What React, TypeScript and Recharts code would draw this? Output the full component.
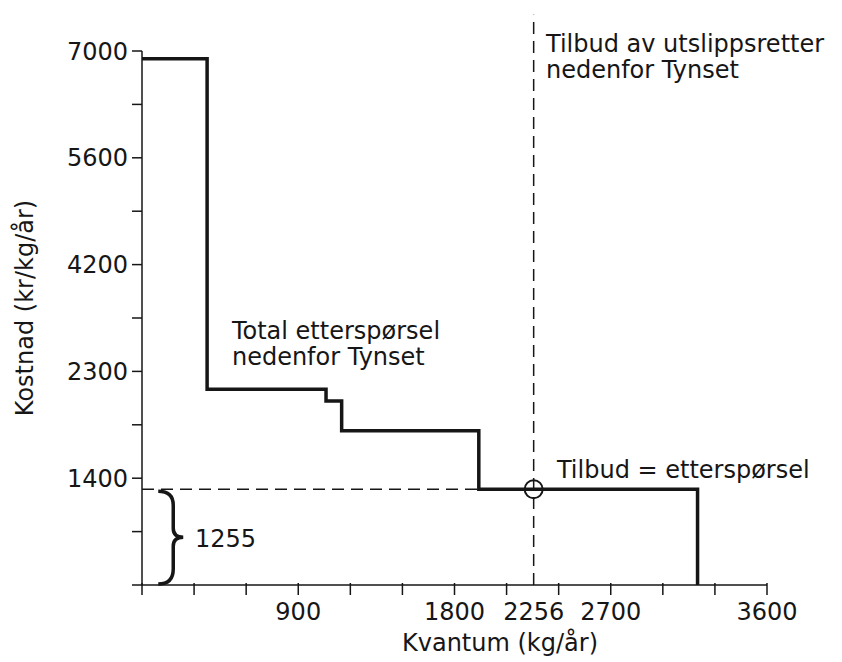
import React from "react";
import {LineChart, Line, XAxis, YAxis, ReferenceLine, ReferenceDot} from "recharts";

const FONT = '"DejaVu Sans", sans-serif';
const INK = "#161616";

// the cost axis is not linear: every labelled value gets the same spacing
const Y_TICK_VALUES = [0, 1400, 2300, 4200, 5600, 7000];
const X_TICK_VALUES = [0, 300, 600, 900, 1200, 1500, 1800, 2100, 2400, 2700, 3000, 3300, 3600];
const X_LABELS = [900, 1800, 2256, 2700, 3600];

// total demand below Tynset (step curve)
const DEMAND_QTY = [0, 375, 1060, 1150, 1940, 3200];
const DEMAND_COST = [6900, 2150, 2050, 1800, 1255, 0];

// supply of emission rights and the equilibrium price
const SUPPLY_QTY = 2256;
const EQ_COST = 1255;

function toIdx(v: number): number {
    for (let i = 0; i < Y_TICK_VALUES.length - 1; i++) {
        const a = Y_TICK_VALUES[i];
        const b = Y_TICK_VALUES[i + 1];
        if (v <= b) return i + (v - a) / (b - a);
    }
    return Y_TICK_VALUES.length - 1;
}

const demandData = DEMAND_QTY.map((q, i) => ({q, cost: DEMAND_COST[i], pos: toIdx(DEMAND_COST[i])}));
const yTicks = Y_TICK_VALUES.flatMap((_, i) => (i === 0 ? [0] : [i - 0.5, i]));

const textStyle = {fontFamily: FONT, fontSize: 24, fill: INK};

const note = (lines: string[]) => (p: any) => (
    <text x={p.cx} y={p.cy} {...textStyle}>
        {lines.map((s, i) => (
            <tspan key={i} x={p.cx} dy={i === 0 ? 0 : 26}>{s}</tspan>
        ))}
    </text>
);

const XTick = (p: any) => {
    const v = p.payload.value;
    const axisY = p.y - 18;
    return (
        <g>
            {v !== SUPPLY_QTY &&
                <line x1={p.x} x2={p.x} y1={axisY - 2} y2={axisY + 10} stroke={INK} strokeWidth={1.5}/>}
            {X_LABELS.includes(v) &&
                <text x={p.x} y={p.y} dy="0.71em" textAnchor="middle" {...textStyle}>{v}</text>}
        </g>
    );
};

const Brace = (p: any) => {
    const x = p.x1;
    const top = Math.min(p.y1, p.y2);
    const bot = Math.max(p.y1, p.y2);
    const mid = (top + bot) / 2;
    const d = `M${x - 15},${top + 2} Q${x},${top + 2} ${x},${top + 16} L${x},${mid - 9} ` +
        `Q${x},${mid} ${x + 10},${mid} Q${x},${mid} ${x},${mid + 9} L${x},${bot - 16} Q${x},${bot - 1} ${x - 15},${bot - 1}`;
    return <path d={d} fill="none" stroke={INK} strokeWidth={3.5}/>;
};

export default function App() {
    return (
        <div style={{position: "absolute", left: 0, top: 0, width: 842, height: 662, overflow: "hidden", background: "#fff"}}>
            <LineChart width={842} height={662} data={demandData}
                       margin={{top: 51, right: 75, bottom: 27, left: 82}}>
                <XAxis dataKey="q" type="number" domain={[0, 3600]} ticks={[...X_TICK_VALUES, SUPPLY_QTY].sort((a, b) => a - b)}
                       interval={0} height={50} tickSize={10} tickMargin={8} tickLine={false}
                       axisLine={{stroke: INK, strokeWidth: 1.5}} tick={<XTick/>}
                       label={{
                           content: ({viewBox}: any) => (
                               <text x={viewBox.x + 358} y={viewBox.y + 66} textAnchor="middle" {...textStyle}>
                                   Kvantum (kg/år)
                               </text>
                           )
                       }}/>
                <YAxis type="number" domain={[0, 5]} ticks={yTicks} interval={0} width={60}
                       tickSize={10} tickMargin={4}
                       axisLine={{stroke: INK, strokeWidth: 1.5}} tickLine={{stroke: INK, strokeWidth: 1.5}}
                       tick={{...textStyle}}
                       tickFormatter={(v: number) => (Number.isInteger(v) && v > 0 ? String(Y_TICK_VALUES[v]) : "")}
                       label={{
                           content: ({viewBox}: any) => {
                               const cx = viewBox.x - 57;
                               const cy = viewBox.y + viewBox.height / 2 - 10;
                               return (
                                   <text x={cx} y={cy} transform={`rotate(-90 ${cx} ${cy})`} textAnchor="middle"
                                         dominantBaseline="central" {...textStyle}>
                                       Kostnad (kr/kg/år)
                                   </text>
                               );
                           }
                       }}/>
                <ReferenceLine segment={[{x: SUPPLY_QTY, y: 0}, {x: SUPPLY_QTY, y: 5.34}]} ifOverflow="visible"
                               stroke={INK} strokeWidth={1.5} strokeDasharray="12 7"/>
                <ReferenceLine segment={[{x: 0, y: toIdx(EQ_COST)}, {x: SUPPLY_QTY, y: toIdx(EQ_COST)}]}
                               ifOverflow="visible" stroke={INK} strokeWidth={1.5} strokeDasharray="12 7"/>
                <Line dataKey="pos" type="stepAfter" stroke={INK} strokeWidth={3.5} dot={false}
                      strokeLinejoin="miter" isAnimationActive={false}/>
                <ReferenceDot x={SUPPLY_QTY} y={toIdx(EQ_COST)} r={9} fill="none" stroke={INK} strokeWidth={2}
                              ifOverflow="visible"/>
                <ReferenceLine segment={[{x: 180, y: toIdx(EQ_COST)}, {x: 180, y: 0}]} ifOverflow="visible"
                               shape={<Brace/>}/>
                <ReferenceDot x={305} y={0.356} r={0} ifOverflow="visible" shape={note(["1255"])}/>
                <ReferenceDot x={518} y={2.303} r={0} ifOverflow="visible"
                              shape={note(["Total etterspørsel", "nedenfor Tynset"])}/>
                <ReferenceDot x={2327} y={4.99} r={0} ifOverflow="visible"
                              shape={note(["Tilbud av utslippsretter", "nedenfor Tynset"])}/>
                <ReferenceDot x={2390} y={1.0} r={0} ifOverflow="visible" shape={note(["Tilbud = etterspørsel"])}/>
            </LineChart>
        </div>
    );
}
